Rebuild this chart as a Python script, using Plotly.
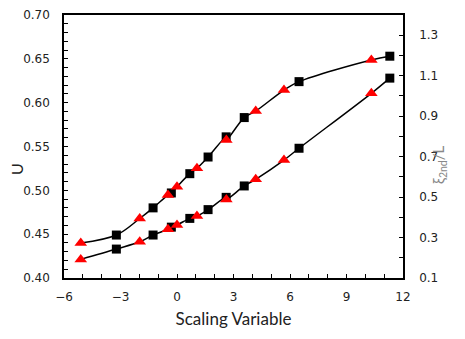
import plotly.graph_objects as go

# Scaling variable positions
x_squares = [-3.22, -1.27, -0.30, 0.68, 1.65, 2.61, 3.57, 6.48, 11.30]
x_triangles = [-5.11, -1.98, -0.48, 0.00, 1.06, 2.62, 4.18, 5.68, 10.32]

# U (left axis), black squares
u_upper = [0.449, 0.480, 0.497, 0.519, 0.538, 0.561, 0.583, 0.624, 0.653]
u_lower = [0.433, 0.449, 0.458, 0.468, 0.478, 0.492, 0.505, 0.548, 0.628]

# xi_2nd / L (right axis), red triangles
xi_upper = [0.273, 0.394, 0.510, 0.551, 0.642, 0.782, 0.925, 1.029, 1.178]
xi_lower = [0.192, 0.279, 0.341, 0.362, 0.406, 0.488, 0.588, 0.683, 1.013]

u_range = [0.40, 0.70]
xi_range = [0.1, 1.4]


def xi_to_u(v):
    # map a right-axis value onto the left axis scale
    return u_range[0] + (v - xi_range[0]) * (u_range[1] - u_range[0]) / (xi_range[1] - xi_range[0])


def merged(xs_a, ys_a, xs_b, ys_b):
    pts = sorted(list(zip(xs_a, ys_a)) + list(zip(xs_b, [xi_to_u(v) for v in ys_b])))
    return [p[0] for p in pts], [p[1] for p in pts]


line_style = dict(color='black', width=1.5, shape='spline', smoothing=1)
square_marker = dict(symbol='square', size=9, color='black')
triangle_marker = dict(symbol='triangle-up', size=11, color='red')

data = []
for u_vals, xi_vals in [(u_upper, xi_upper), (u_lower, xi_lower)]:
    lx, ly = merged(x_squares, u_vals, x_triangles, xi_vals)
    data.append(go.Scatter(x=lx, y=ly, mode='lines', line=line_style, yaxis='y'))
for u_vals in [u_upper, u_lower]:
    data.append(go.Scatter(x=x_squares, y=u_vals, mode='markers',
                           marker=square_marker, yaxis='y'))
for xi_vals in [xi_upper, xi_lower]:
    data.append(go.Scatter(x=x_triangles, y=xi_vals, mode='markers',
                           marker=triangle_marker, yaxis='y2'))

tick_font = dict(family='DejaVu Sans', size=12, color='#222')
axis_common = dict(showline=True, linecolor='black', linewidth=1.5,
                   ticks='inside', ticklen=4, tickwidth=1.2, tickcolor='black',
                   showgrid=False, zeroline=False, tickfont=tick_font,
                   automargin=False)

# page body has an 8px margin, so the figure is shifted by that much
ml, mr, mt, mb = 56, 70, 7, 69

my_layout = go.Layout(
    width=465, height=339,
    margin=dict(l=ml, r=mr, t=mt, b=mb),
    paper_bgcolor='white', plot_bgcolor='white',
    showlegend=False,
    xaxis=dict(range=[-6, 12], dtick=3, tick0=-6, mirror=True,
               minor=dict(dtick=1, ticks='inside', ticklen=4, tickcolor='black'),
               ticklabelstandoff=7,
               title=dict(text='Scaling Variable', standoff=10,
                          font=dict(family='Lato', size=17, color='#222')),
               **axis_common),
    yaxis=dict(range=u_range, dtick=0.05, tickformat='.2f',
               minor=dict(dtick=0.01, ticks='inside', ticklen=4, tickcolor='black'),
               ticklabelstandoff=10,
               **axis_common),
    yaxis2=dict(range=xi_range, dtick=0.2, tick0=0.1, tickformat='.1f',
                overlaying='y', side='right',
                minor=dict(dtick=0.1, ticks='inside', ticklen=4, tickcolor='black'),
                ticklabelstandoff=12,
                **axis_common),
)

# axis titles placed as annotations (page pixel positions -> paper coords)
pw = 465 - ml - mr
ph = 339 - mt - mb
for text, px, py, size, color in [('U', 16, 169, 16, '#222'),
                                  ('ξ<sub>2nd</sub>/L', 439, 165, 15, '#888')]:
    my_layout.annotations += (dict(text=text, xref='paper', yref='paper',
                                   x=(px - 8 - ml) / pw, y=(339 - mb - (py - 8)) / ph,
                                   xanchor='center', yanchor='middle',
                                   showarrow=False, textangle=-90,
                                   font=dict(family='Lato', size=size, color=color)),)

fig = go.Figure(data, my_layout)
fig.write_html('out.html')
